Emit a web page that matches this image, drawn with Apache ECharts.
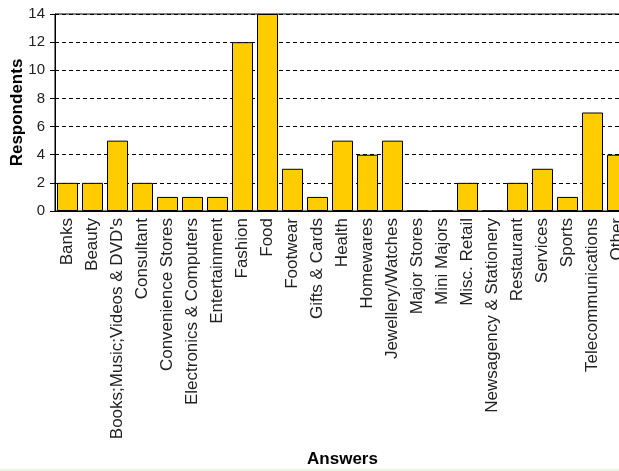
<!DOCTYPE html>
<html>
<head>
<meta charset="utf-8">
<script src="https://cdn.jsdelivr.net/npm/echarts@6/dist/echarts.min.js"></script>
<style>
html,body{margin:0;padding:0;background:#fff;}
#c{width:619px;height:471px;}
</style>
</head>
<body>
<div id="c"></div>
<script>
var categories = ["Banks","Beauty","Books;Music;Videos & DVD's","Consultant","Convenience Stores","Electronics & Computers","Entertainment","Fashion","Food","Footwear","Gifts & Cards","Health","Homewares","Jewellery/Watches","Major Stores","Mini Majors","Misc. Retail","Newsagency & Stationery","Restaurant","Services","Sports","Telecommunications","Other"];
var respondents = [2,2,5,2,1,1,1,12,14,3,1,5,4,5,0,0,2,0,2,3,1,7,4];
var yTicks = {min:0, max:14, interval:2};

var chart = echarts.init(document.getElementById('c'), null, {renderer:'canvas'});
chart.setOption({
  animation:false,
  backgroundColor:'#ffffff',
  grid:{left:55, top:14, width:575, height:197, containLabel:false, outerBoundsMode:'none', show:true, borderColor:'#000', borderWidth:1, backgroundColor:'#fff'},
  xAxis:{
    type:'category',
    data:categories,
    name:'Answers',
    nameLocation:'middle',
    nameGap:240,
    nameMoveOverlap:false,
    nameTextStyle:{fontFamily:'Liberation Sans', fontWeight:'bold', fontSize:17, color:'#000'},
    axisLine:{lineStyle:{color:'#000', width:1}},
    axisTick:{alignWithLabel:true, length:5, lineStyle:{color:'#000'}},
    axisLabel:{rotate:90, interval:0, fontFamily:'Liberation Sans', fontSize:17, color:'#222', margin:7, hideOverlap:false}
  },
  yAxis:{
    type:'value',
    min:yTicks.min, max:yTicks.max, interval:yTicks.interval,
    name:'Respondents',
    nameLocation:'middle',
    nameGap:29,
    nameMoveOverlap:false,
    nameTextStyle:{fontFamily:'Liberation Sans', fontWeight:'bold', fontSize:17, color:'#000'},
    axisLine:{show:true, lineStyle:{color:'#000', width:1}},
    axisTick:{show:true, length:5, lineStyle:{color:'#000'}},
    axisLabel:{fontFamily:'Liberation Sans', fontSize:15, color:'#222', margin:10},
    splitLine:{show:true, lineStyle:{color:'#000', type:[4,3], width:1}}
  },
  series:[{
    type:'bar',
    data:respondents,
    barWidth:21,
    itemStyle:{color:'#FFCC00', borderColor:'#000', borderWidth:1}
  }],
  graphic:[{type:'rect', left:0, top:469, shape:{width:619, height:2}, style:{fill:'#e6f7de'}}]
});
</script>
</body>
</html>
